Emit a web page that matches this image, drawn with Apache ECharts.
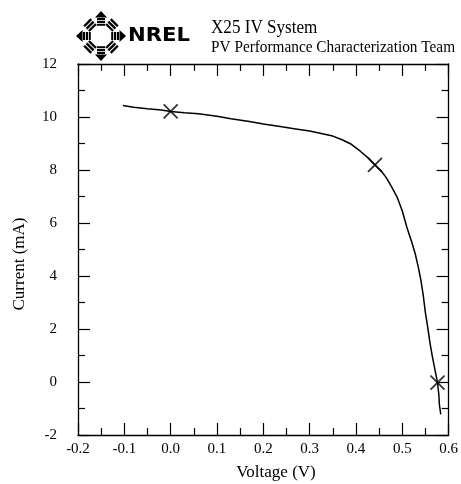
<!DOCTYPE html>
<html>
<head>
<meta charset="utf-8">
<script src="https://cdn.jsdelivr.net/npm/echarts@6/dist/echarts.min.js"></script>
<style>html,body{margin:0;padding:0;background:#fff;}#c{width:461px;height:484px;}</style>
</head>
<body>
<div id="c"></div>
<script>
// IV curve (voltage V, current mA)
const voltage = [-0.103, -0.08, -0.05, -0.02, 0.0, 0.03, 0.06, 0.10, 0.13, 0.17, 0.20, 0.24, 0.27, 0.30, 0.33, 0.35, 0.37, 0.39, 0.41, 0.43, 0.441, 0.455, 0.465, 0.477, 0.489, 0.50, 0.51, 0.52, 0.528, 0.535, 0.54, 0.545, 0.55, 0.555, 0.56, 0.565, 0.571, 0.576, 0.579, 0.580, 0.583];
const current = [10.43, 10.37, 10.31, 10.26, 10.21, 10.16, 10.12, 10.03, 9.93, 9.83, 9.74, 9.63, 9.55, 9.47, 9.36, 9.28, 9.14, 8.97, 8.70, 8.40, 8.19, 7.95, 7.72, 7.36, 6.97, 6.45, 5.83, 5.30, 4.83, 4.30, 3.85, 3.30, 2.60, 2.05, 1.45, 0.95, 0.42, -0.02, -0.50, -0.84, -1.22];
// Isc, Pmax, Voc markers
const markerV = [0.0, 0.441, 0.576];
const markerI = [10.21, 8.19, -0.02];
const titleLines = ["X25 IV System", "PV Performance Characterization Team"];
const logoText = "NREL";
const xName = "Voltage (V)";
const yName = "Current (mA)";

const serif = "'Liberation Serif', 'DejaVu Serif', serif";
const chart = echarts.init(document.getElementById('c'), null, {renderer: 'canvas'});

const axisCommon = {
  axisLine: {show: true, onZero: false, lineStyle: {color: '#000', width: 1.3}},
  axisTick: {show: true, inside: true, length: 12, lineStyle: {color: '#000', width: 1.2}},
  minorTick: {show: true, splitNumber: 2, length: 7, lineStyle: {color: '#000', width: 1.2}},
  splitLine: {show: false},
  minorSplitLine: {show: false}
};

// logo group pieces
const logoChildren = [];
for (let k = 0; k < 8; k++) {
  const ang = -k * Math.PI / 4;
  const kids = [];
  if (k % 2 === 0) {
    kids.push({type: 'polygon', shape: {points: [[-6, -18.5], [6, -18.5], [0, -25]]}, style: {fill: '#000'}});
    kids.push({type: 'rect', shape: {x: -4, y: -18, width: 8, height: 2.2}, style: {fill: '#000'}});
    kids.push({type: 'rect', shape: {x: -4, y: -15, width: 8, height: 2.2}, style: {fill: '#000'}});
    kids.push({type: 'rect', shape: {x: -4, y: -12, width: 8, height: 1.8}, style: {fill: '#000'}});
  } else {
    kids.push({type: 'rect', shape: {x: -5, y: -20, width: 10, height: 2.4}, style: {fill: '#000'}});
    kids.push({type: 'rect', shape: {x: -5, y: -16.6, width: 10, height: 2.4}, style: {fill: '#000'}});
    kids.push({type: 'rect', shape: {x: -5, y: -13.2, width: 10, height: 2.2}, style: {fill: '#000'}});
  }
  logoChildren.push({type: 'group', x: 0, y: 0, rotation: ang, children: kids});
}

chart.setOption({
  animation: false,
  backgroundColor: '#fff',
  grid: {left: 78, right: 9, top: 64, bottom: 49, containLabel: false},
  xAxis: [
    Object.assign({}, axisCommon, {
      type: 'value', min: -0.2, max: 0.6, interval: 0.1, position: 'bottom',
      axisLabel: {show: true, margin: 7, color: '#000', fontFamily: serif, fontSize: 15,
        formatter: v => v.toFixed(1)}
    }),
    Object.assign({}, axisCommon, {
      type: 'value', min: -0.2, max: 0.6, interval: 0.1, position: 'top',
      axisLabel: {show: false}
    })
  ],
  yAxis: [
    Object.assign({}, axisCommon, {
      type: 'value', min: -2, max: 12, interval: 2, position: 'left',
      axisLabel: {show: true, margin: 21, color: '#000', fontFamily: serif, fontSize: 15}
    }),
    Object.assign({}, axisCommon, {
      type: 'value', min: -2, max: 12, interval: 2, position: 'right',
      axisLabel: {show: false}
    })
  ],
  graphic: [
    {type: 'group', x: 101, y: 36, children: logoChildren},
    {type: 'text', x: 128, y: 36, scaleX: 1.06, style: {text: logoText, fill: '#000', font: "bold 20px 'DejaVu Sans', sans-serif", textAlign: 'left', textVerticalAlign: 'middle'}},
    {type: 'text', x: 211, y: 28.5, scaleX: 0.95, style: {text: titleLines[0], fill: '#000', font: "18px " + serif, textAlign: 'left', textVerticalAlign: 'middle'}},
    {type: 'text', x: 211, y: 47.5, scaleX: 0.9, style: {text: titleLines[1], fill: '#000', font: "17px " + serif, textAlign: 'left', textVerticalAlign: 'middle'}},
    {type: 'text', x: 276, y: 473, style: {text: xName, fill: '#000', font: "17px " + serif, textAlign: 'center', textVerticalAlign: 'middle'}},
    {type: 'text', x: 20, y: 264, rotation: Math.PI / 2, style: {text: yName, fill: '#000', font: "17px " + serif, textAlign: 'center', textVerticalAlign: 'middle'}}
  ],
  series: [
    {
      type: 'line', xAxisIndex: 0, yAxisIndex: 0, showSymbol: false, symbol: 'none',
      lineStyle: {color: '#000', width: 1.5},
      data: voltage.map((v, i) => [v, current[i]])
    },
    {
      type: 'scatter', xAxisIndex: 0, yAxisIndex: 0,
      symbol: 'path://M0,0L10,10M10,0L0,10', symbolSize: 14,
      itemStyle: {color: 'none', borderColor: '#000', borderWidth: 1.8},
      data: markerV.map((v, i) => [v, markerI[i]])
    }
  ]
});
</script>
</body>
</html>
